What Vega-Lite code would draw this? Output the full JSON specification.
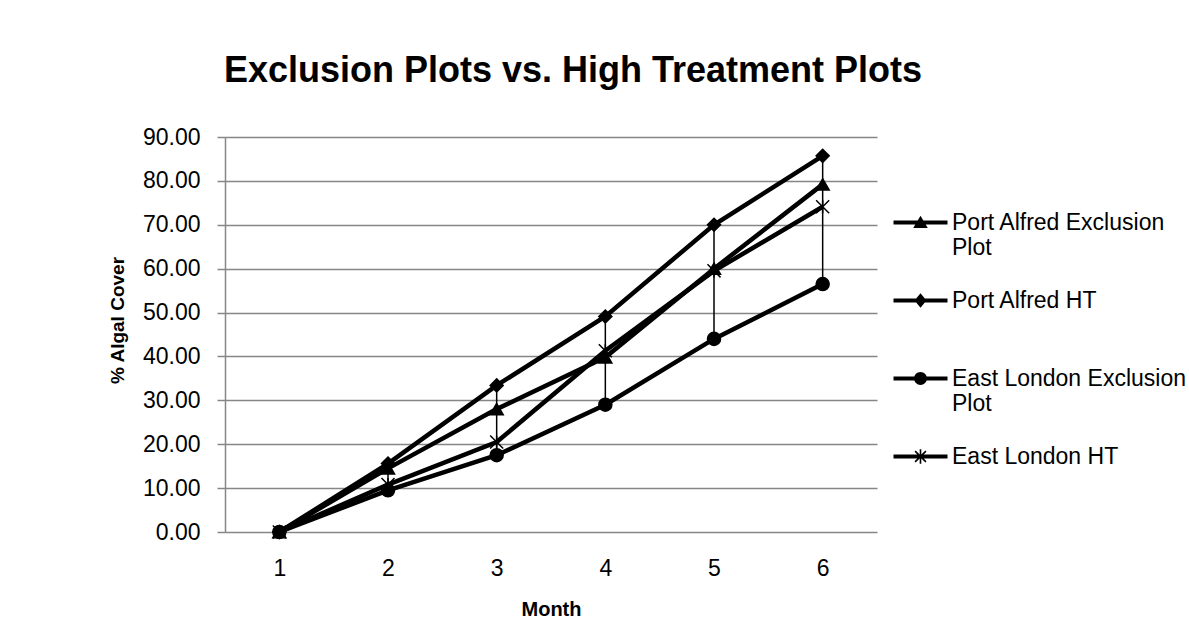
{
  "$schema": "https://vega.github.io/schema/vega-lite/v6.json",
  "width": 652,
  "height": 395,
  "autosize": "none",
  "padding": {"left": 225, "top": 137, "right": 312, "bottom": 102},
  "background": "white",
  "title": {
    "text": "Exclusion Plots vs. High Treatment Plots",
    "font": "Liberation Sans",
    "fontSize": 36,
    "fontWeight": "bold",
    "color": "black",
    "anchor": "middle",
    "frame": "group",
    "baseline": "alphabetic",
    "offset": 8,
    "dx": 22
  },
  "config": {
    "view": {"stroke": null},
    "axis": {"labelColor": "black", "titleColor": "black", "labelFont": "Liberation Sans", "titleFont": "Liberation Sans"}
  },
  "data": {
    "values": [
      {"month": 1, "series": "Port Alfred Exclusion Plot", "value": 0},
      {"month": 2, "series": "Port Alfred Exclusion Plot", "value": 14.5},
      {"month": 3, "series": "Port Alfred Exclusion Plot", "value": 28},
      {"month": 4, "series": "Port Alfred Exclusion Plot", "value": 39.8},
      {"month": 5, "series": "Port Alfred Exclusion Plot", "value": 60},
      {"month": 6, "series": "Port Alfred Exclusion Plot", "value": 79.2},
      {"month": 1, "series": "Port Alfred HT", "value": 0},
      {"month": 2, "series": "Port Alfred HT", "value": 15.6},
      {"month": 3, "series": "Port Alfred HT", "value": 33.4},
      {"month": 4, "series": "Port Alfred HT", "value": 49.1},
      {"month": 5, "series": "Port Alfred HT", "value": 70},
      {"month": 6, "series": "Port Alfred HT", "value": 85.7},
      {"month": 1, "series": "East London Exclusion Plot", "value": 0},
      {"month": 2, "series": "East London Exclusion Plot", "value": 9.5},
      {"month": 3, "series": "East London Exclusion Plot", "value": 17.5},
      {"month": 4, "series": "East London Exclusion Plot", "value": 29},
      {"month": 5, "series": "East London Exclusion Plot", "value": 44},
      {"month": 6, "series": "East London Exclusion Plot", "value": 56.5},
      {"month": 1, "series": "East London HT", "value": 0},
      {"month": 2, "series": "East London HT", "value": 10.8},
      {"month": 3, "series": "East London HT", "value": 20.5},
      {"month": 4, "series": "East London HT", "value": 41.3},
      {"month": 5, "series": "East London HT", "value": 59.5},
      {"month": 6, "series": "East London HT", "value": 74.1}
    ]
  },
  "encoding": {
    "x": {
      "field": "month",
      "type": "ordinal",
      "scale": {"type": "point", "padding": 0.5},
      "axis": {
        "title": "Month",
        "labelAngle": 0,
        "labelFontSize": 23,
        "labelPadding": 25,
        "domain": false,
        "ticks": false,
        "tickSize": 0,
        "grid": false,
        "titleFontSize": 20,
        "titleFontWeight": "bold",
        "titleBaseline": "alphabetic",
        "titleY": 83
      }
    }
  },
  "resolve": {"scale": {"shape": "independent"}, "legend": {"shape": "independent"}},
  "layer": [
    {
      "mark": {"type": "rule", "color": "black", "strokeWidth": 1.5},
      "encoding": {
        "y": {"aggregate": "min", "field": "value", "type": "quantitative"},
        "y2": {"aggregate": "max", "field": "value"}
      }
    },
    {
      "mark": {"type": "line", "color": "black", "strokeWidth": 4.5},
      "encoding": {
        "y": {
          "field": "value",
          "type": "quantitative",
          "scale": {"domain": [0, 90], "nice": false},
          "axis": {
            "title": "% Algal Cover",
            "values": [0, 10, 20, 30, 40, 50, 60, 70, 80, 90],
            "format": ".2f",
            "labelFontSize": 23,
            "labelPadding": 17,
            "gridColor": "#868686",
            "gridWidth": 1.5,
            "domainColor": "#868686",
            "domainWidth": 1.5,
            "tickColor": "#868686",
            "tickWidth": 1.5,
            "tickSize": 8,
            "titleFontSize": 19,
            "titleFontWeight": "bold",
            "titleX": -98,
            "titleY": 183
          }
        },
        "detail": {"field": "series"}
      }
    },
    {
      "mark": {"type": "point", "filled": true, "color": "black", "stroke": "black", "strokeWidth": 1.5, "opacity": 1, "size": 170},
      "encoding": {
        "y": {"field": "value", "type": "quantitative"},
        "shape": {
          "field": "series",
          "type": "nominal",
          "scale": {
            "domain": ["Port Alfred Exclusion Plot", "Port Alfred HT", "East London Exclusion Plot", "East London HT"],
            "range": ["triangle-up", "diamond", "circle", "M-1,-1L1,1M1,-1L-1,1M0,-1L0,1"]
          },
          "legend": null
        }
      }
    },
    {
      "mark": {"type": "point", "filled": true, "color": "black", "opacity": 0, "size": 10},
      "encoding": {
        "y": {"field": "value", "type": "quantitative"},
        "shape": {
          "field": "series",
          "type": "nominal",
          "scale": {
            "domain": ["Port Alfred Exclusion Plot", "Port Alfred HT", "East London Exclusion Plot", "East London HT"],
            "range": [
              "M-1,-0.07L1,-0.07L1,0.07L-1,0.07ZM-0.27,0.2L0,-0.25L0.27,0.2Z",
              "M-1,-0.07L1,-0.07L1,0.07L-1,0.07ZM0,-0.27L0.22,0L0,0.27L-0.22,0Z",
              "M-1,-0.07L1,-0.07L1,0.07L-1,0.07ZM0.24,0A0.24,0.24,0,1,1,-0.24,0A0.24,0.24,0,1,1,0.24,0Z",
              "M-1,-0.07L1,-0.07L1,0.07L-1,0.07ZM-0.03,-0.27L0.03,-0.27L0.03,0.27L-0.03,0.27ZM-0.179,-0.221L0.221,0.179L0.179,0.221L-0.221,-0.179ZM0.221,-0.179L-0.179,0.221L-0.221,0.179L0.179,-0.221Z"
            ]
          },
          "legend": {
            "title": null,
            "orient": "none",
            "legendX": 668,
            "legendY": 58,
            "padding": 0,
            "symbolSize": 2916,
            "symbolFillColor": "black",
            "symbolStrokeColor": "black",
            "symbolStrokeWidth": 0.5,
            "symbolOpacity": 1,
            "labelFont": "Liberation Sans",
            "labelFontSize": 23,
            "labelColor": "black",
            "labelLimit": 400,
            "labelOffset": 4,
            "rowPadding": 13,
            "labelExpr": "datum.label == 'Port Alfred Exclusion Plot' ? ['Port Alfred Exclusion', 'Plot'] : datum.label == 'East London Exclusion Plot' ? ['East London Exclusion', 'Plot'] : [datum.label, ' ']"
          }
        }
      }
    }
  ]
}
